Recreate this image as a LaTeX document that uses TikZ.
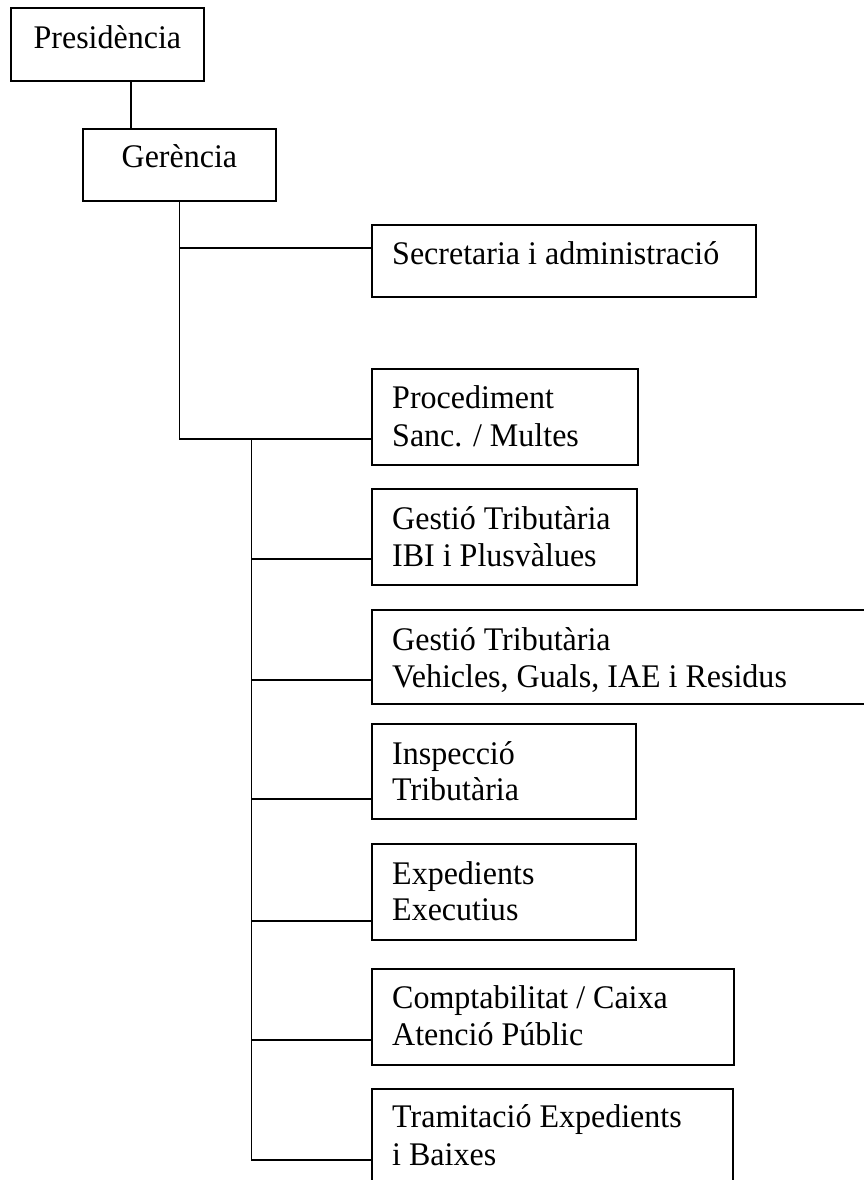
\documentclass[tikz,border=0pt]{standalone}
\usepackage{fontspec}
\setmainfont{Liberation Serif}[FakeStretch=0.97]
\begin{document}
\begin{tikzpicture}[x=1pt,y=-1pt,
  box/.style={draw,line width=1.8pt,rectangle,inner sep=0pt,anchor=north west},
  lbl/.style={inner sep=0pt,font=\fontsize{33}{37}\selectfont},
  conn/.style={line width=1.8pt}]
\useasboundingbox (0,0) rectangle (864,1180);
\clip (0,0) rectangle (864,1180);
\fill[white] (0,0) rectangle (864,1180);
% boxes
\node[box,minimum width=193pt,minimum height=73pt] (pres) at (10,7) {};
\node[box,minimum width=193pt,minimum height=72pt] (ger) at (82,128) {};
\node[box,minimum width=384pt,minimum height=72pt] (sec) at (371,224) {};
\node[box,minimum width=266pt,minimum height=96pt] (proc) at (371,368) {};
\node[box,minimum width=265pt,minimum height=96pt] (ibi) at (371,488) {};
\node[box,minimum width=520pt,minimum height=94pt] (veh) at (371,609) {};
\node[box,minimum width=264pt,minimum height=95pt] (insp) at (371,723) {};
\node[box,minimum width=264pt,minimum height=96pt] (exp) at (371,843) {};
\node[box,minimum width=362pt,minimum height=96pt] (comp) at (371,968) {};
\node[box,minimum width=361pt,minimum height=100pt] (tram) at (371,1088) {};
% labels
\node[lbl,anchor=base] (presl) at ([yshift=-42pt]pres.north) {Presidència};
\node[lbl,anchor=base] (gerl) at ([yshift=-39pt]ger.north) {Gerència};
\node[lbl,anchor=base west] (secl) at ([xshift=21pt,yshift=-40pt]sec.north west) {Secretaria i administració};
\node[lbl,anchor=base west] (procl) at ([xshift=21pt,yshift=-40pt]proc.north west) {\vtop{\baselineskip=38pt\hbox{Procediment}\hbox{Sanc. / Multes}}};
\node[lbl,anchor=base west] (ibil) at ([xshift=21pt,yshift=-41pt]ibi.north west) {\vtop{\baselineskip=37pt\hbox{Gestió Tributària}\hbox{IBI i Plusvàlues}}};
\node[lbl,anchor=base west] (vehl) at ([xshift=21pt,yshift=-41pt]veh.north west) {\vtop{\baselineskip=37pt\hbox{Gestió Tributària}\hbox{Vehicles, Guals, IAE i Residus}}};
\node[lbl,anchor=base west] (inspl) at ([xshift=21pt,yshift=-41pt]insp.north west) {\vtop{\baselineskip=36pt\hbox{Inspecció}\hbox{Tributària}}};
\node[lbl,anchor=base west] (expl) at ([xshift=21pt,yshift=-41pt]exp.north west) {\vtop{\baselineskip=36pt\hbox{Expedients}\hbox{Executius}}};
\node[lbl,anchor=base west] (compl) at ([xshift=21pt,yshift=-40pt]comp.north west) {\vtop{\baselineskip=37pt\hbox{Comptabilitat / Caixa}\hbox{Atenció Públic}}};
\node[lbl,anchor=base west] (traml) at ([xshift=21pt,yshift=-39pt]tram.north west) {\vtop{\baselineskip=38pt\hbox{Tramitació Expedients}\hbox{i Baixes}}};
% junction points
\coordinate (sj) at ([yshift=-24pt]sec.north west);
\coordinate (pj) at ([yshift=-71pt]proc.north west);
\coordinate (ij) at ([yshift=-71pt]ibi.north west);
\coordinate (vj) at ([yshift=-71pt]veh.north west);
\coordinate (nj) at ([yshift=-76pt]insp.north west);
\coordinate (ej) at ([yshift=-78pt]exp.north west);
\coordinate (cj) at ([yshift=-72pt]comp.north west);
\coordinate (tj) at ([yshift=-72pt]tram.north west);
\coordinate (t2) at ([xshift=72pt]ger.south |- pj);
% connectors
\draw[conn] ([xshift=23.5pt]pres.south) -- ([xshift=23.5pt]pres.south |- ger.north);
\draw[conn] (ger.south) |- (pj);
\draw[conn] (ger.south |- sj) -- (sj);
\draw[conn] (t2) |- (tj);
\draw[conn] (t2 |- ij) -- (ij);
\draw[conn] (t2 |- vj) -- (vj);
\draw[conn] (t2 |- nj) -- (nj);
\draw[conn] (t2 |- ej) -- (ej);
\draw[conn] (t2 |- cj) -- (cj);
\end{tikzpicture}
\end{document}
